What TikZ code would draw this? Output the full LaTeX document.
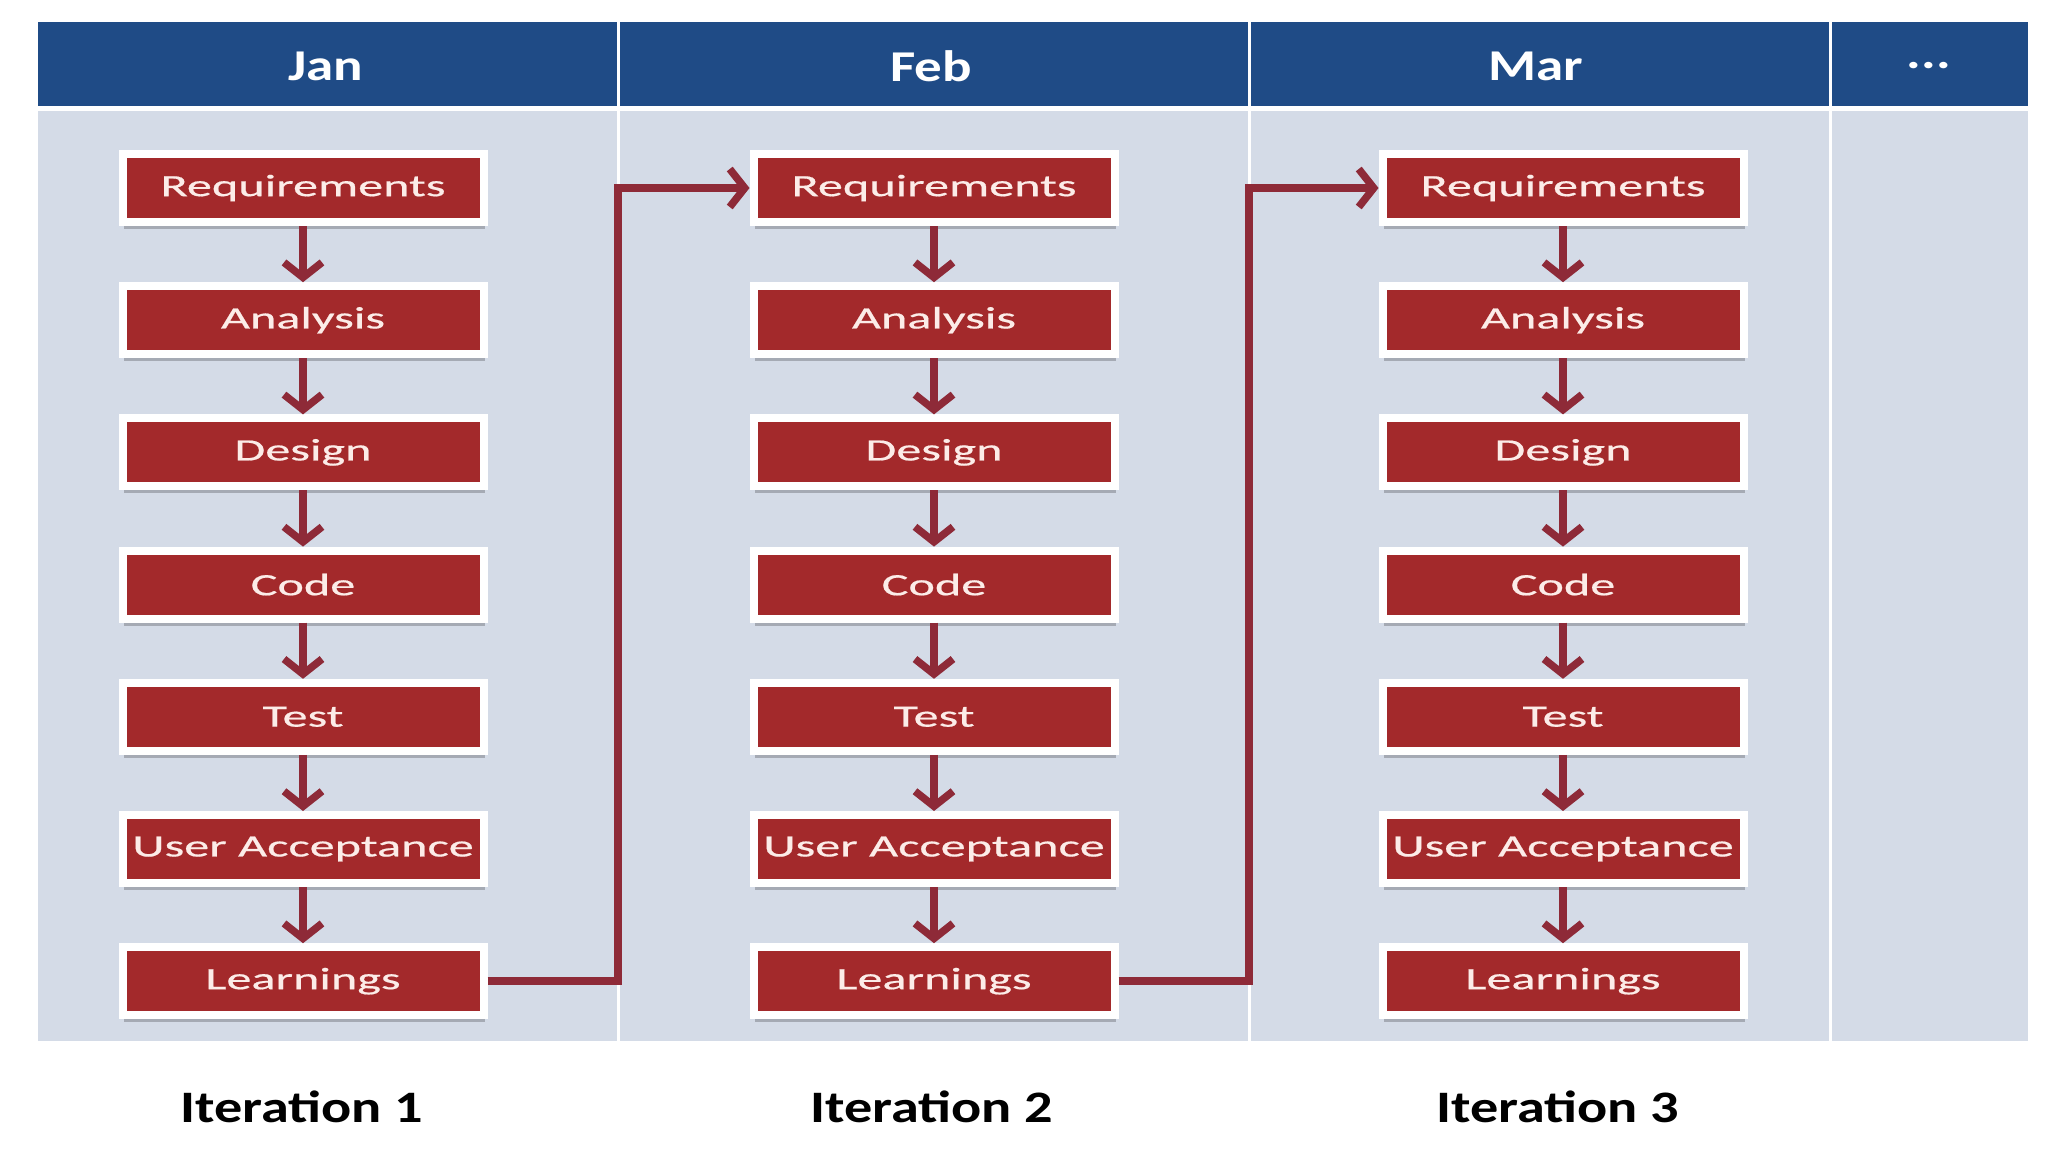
\documentclass[tikz,border=0pt]{standalone}
\usepackage{fontspec}
\setmainfont{Carlito}
\newfontfamily\boxfont[FakeStretch=1.62,FakeBold=0.6]{Carlito}
\newfontfamily\headfont[FakeStretch=1.25]{Carlito}
\usetikzlibrary{arrows.meta,shadows}
\definecolor{hdrblue}{HTML}{1F4B86}
\definecolor{bodybg}{HTML}{D4DBE7}
\definecolor{boxred}{HTML}{A3292B}
\definecolor{arrred}{HTML}{8E2A38}
\definecolor{boxtext}{HTML}{FCECE8}
\tikzset{
  stepbox/.style={rectangle, fill=boxred, draw=white, line width=8pt,
    minimum width=361pt, minimum height=68pt, inner sep=0pt, text=boxtext,
    font=\boxfont\fontsize{31}{36}\selectfont,
    drop shadow={shadow xshift=1pt, shadow yshift=-7pt, fill=black, opacity=0.22}},
  conn/.style={draw=arrred, line width=7.5pt, line join=miter,
    -{Straight Barb[length=15pt,width=38pt]}},
  hdr/.style={text=white, font=\headfont\bfseries\fontsize{44}{50}\selectfont},
  iter/.style={text=black, font=\headfont\bfseries\fontsize{45}{50}\selectfont},
}
\begin{document}
\begin{tikzpicture}[x=1pt,y=-1pt]
\useasboundingbox (0,0) rectangle (2048,1152);
\fill[white] (0,0) rectangle (2048,1152);
\fill[hdrblue] (38,22) rectangle (2028,106);
\fill[bodybg] (38,111) rectangle (2028,1041);
\foreach \x in {618,1249,1830} \draw[white, line width=3pt] (\x,22) -- (\x,1041);
\node[hdr] (h1) at (326,66) {Jan};
\node[hdr] (h2) at (931,66) {Feb};
\node[hdr] (h3) at (1536,66) {Mar};
\node[hdr] (h4) at (1929,66) {...};
\foreach \cx [count=\c] in {303,934,1563} {
  \foreach \t [count=\r] in {Requirements,Analysis,Design,Code,Test,User Acceptance,Learnings} {
    \node[stepbox] (b\c-\r) at (\cx, {188+132.2*(\r-1)}) {\t};
  }
  \foreach \r [evaluate=\r as \n using int(\r+1)] in {1,...,6}
    \draw[conn] (b\c-\r.south) -- (b\c-\n.north);
}
\coordinate (c1) at (618,500);
\coordinate (c2) at (1249,500);
\draw[conn] (b1-7.east) -- (b1-7.east -| c1) -- (b2-1.west -| c1) -- (b2-1.west);
\draw[conn] (b2-7.east) -- (b2-7.east -| c2) -- (b3-1.west -| c2) -- (b3-1.west);
\node[iter] (i1) at (302,1107) {Iteration 1};
\node[iter] (i2) at (932,1107) {Iteration 2};
\node[iter] (i3) at (1558,1107) {Iteration 3};
\end{tikzpicture}
\end{document}
